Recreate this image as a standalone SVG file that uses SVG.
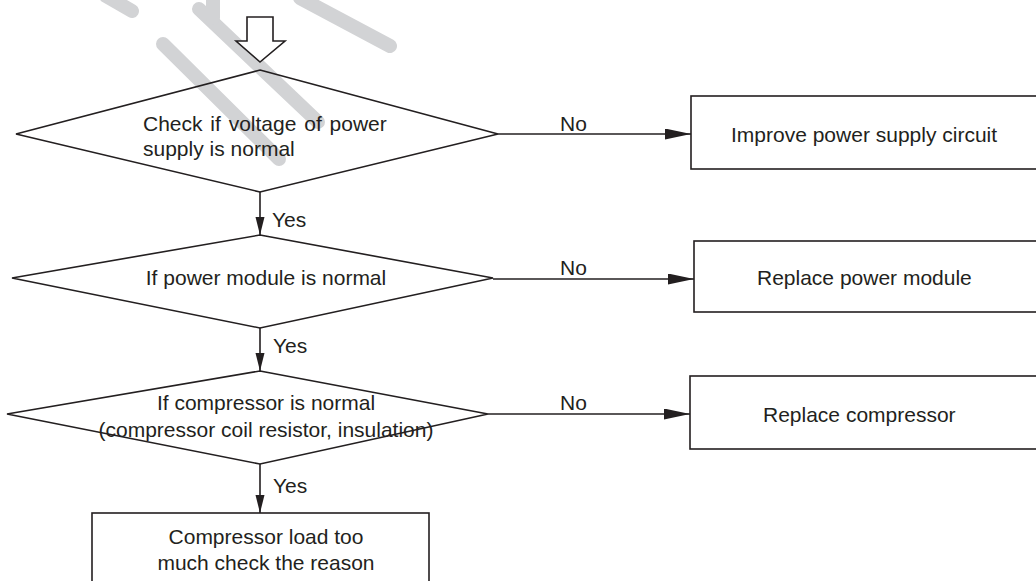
<svg xmlns="http://www.w3.org/2000/svg" width="1036" height="581" viewBox="0 0 1036 581">
<style>
.shape{fill:#fff;stroke:#231f20;stroke-width:1.6}
.dia{fill:none;stroke:#231f20;stroke-width:1.6}
.line{fill:none;stroke:#231f20;stroke-width:1.6}
.t{font-family:"Liberation Sans",Arial,sans-serif;font-size:21px;fill:#231f20}
.c{text-anchor:middle}
.wm{fill:none;stroke:#d2d3d5;stroke-width:14;stroke-linecap:round}
</style>
<defs>
<marker id="ah" markerUnits="userSpaceOnUse" markerWidth="27" markerHeight="12" refX="26" refY="5.5" orient="auto">
<path d="M0,0 L26,5.5 L0,11 Z" fill="#231f20"/>
</marker>
<marker id="av" markerUnits="userSpaceOnUse" markerWidth="19" markerHeight="10" refX="18" refY="4.5" orient="auto">
<path d="M0,0 L18,4.5 L0,9 Z" fill="#231f20"/>
</marker>
</defs>
<rect width="1036" height="581" fill="#fff"/>
<g id="watermark">
<line class="wm" x1="106" y1="-4" x2="132" y2="11"/>
<line class="wm" x1="163" y1="44" x2="279" y2="159"/>
<line class="wm" x1="199" y1="9" x2="318" y2="122"/>
<line class="wm" x1="213" y1="-2" x2="213" y2="18"/>
<line class="wm" x1="300" y1="-2" x2="390" y2="46"/>
</g>
<g id="start">
<path class="shape" d="M247,17 H273 V41 H285 L260,62 L236,41 H247 Z"/>
</g>
<g id="d1">
<polygon class="dia" points="260,70 498,134 260,192 16,134"/>
<text class="t" x="143" y="131" word-spacing="2">Check if voltage of power</text>
<text class="t" x="143" y="156">supply is normal</text>
</g>
<g id="b1">
<rect class="shape" x="691" y="96" width="360" height="73"/>
<text class="t" x="731" y="142">Improve power supply circuit</text>
</g>
<g id="d2">
<polygon class="dia" points="260,235 493,278 260,328 12,278"/>
<text class="t c" x="266" y="285">If power module is normal</text>
</g>
<g id="b2">
<rect class="shape" x="694" y="241" width="360" height="71"/>
<text class="t" x="757" y="285">Replace power module</text>
</g>
<g id="d3">
<polygon class="dia" points="260,371 488,414 260,464 7,414"/>
<text class="t c" x="266" y="410">If compressor is normal</text>
<text class="t c" x="266" y="437">(compressor coil resistor, insulation)</text>
</g>
<g id="b3">
<rect class="shape" x="690" y="376" width="360" height="73"/>
<text class="t" x="763" y="422">Replace compressor</text>
</g>
<g id="b4">
<rect class="shape" x="92" y="513" width="337" height="80"/>
<text class="t c" x="266" y="544">Compressor load too</text>
<text class="t c" x="266" y="570">much check the reason</text>
</g>
<g id="connectors">
<line class="line" x1="498" y1="134" x2="691" y2="134" marker-end="url(#ah)"/>
<line class="line" x1="493" y1="279" x2="694" y2="279" marker-end="url(#ah)"/>
<line class="line" x1="488" y1="414" x2="690" y2="414" marker-end="url(#ah)"/>
<line class="line" x1="260" y1="192" x2="260" y2="235" marker-end="url(#av)"/>
<line class="line" x1="260" y1="328" x2="260" y2="371" marker-end="url(#av)"/>
<line class="line" x1="260" y1="464" x2="260" y2="513" marker-end="url(#av)"/>
<text class="t" x="560" y="131">No</text>
<text class="t" x="560" y="275">No</text>
<text class="t" x="560" y="410">No</text>
<text class="t" x="272" y="227">Yes</text>
<text class="t" x="273" y="353">Yes</text>
<text class="t" x="273" y="493">Yes</text>
</g>
</svg>
